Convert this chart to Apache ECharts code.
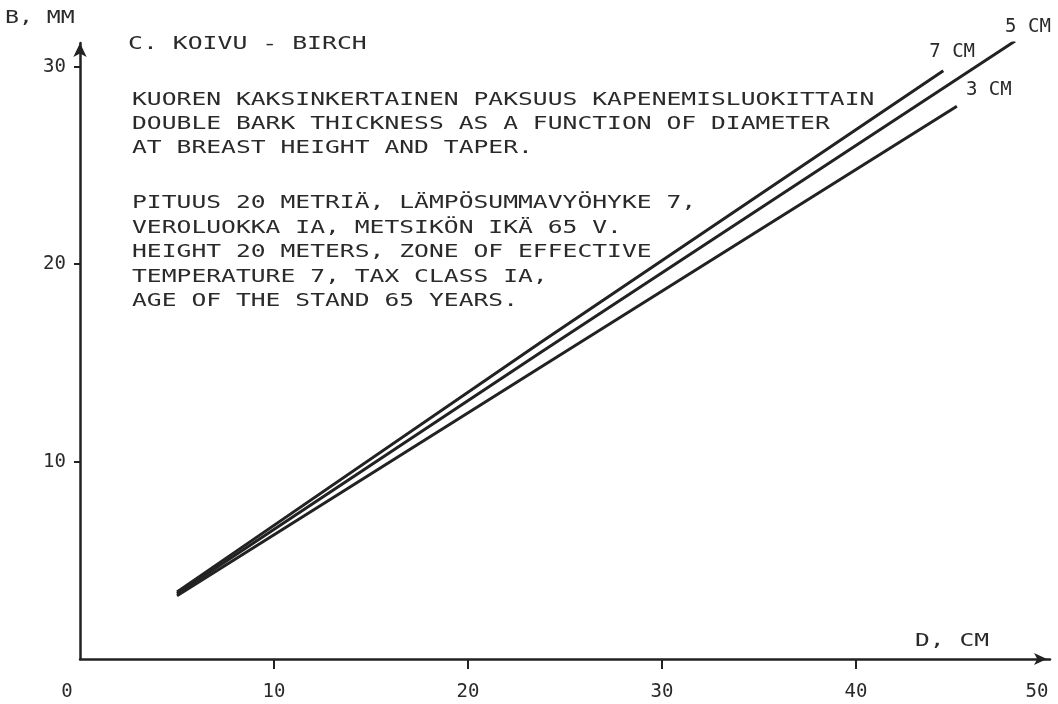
<!DOCTYPE html>
<html>
<head>
<meta charset="utf-8">
<script src="https://cdn.jsdelivr.net/npm/echarts@6/dist/echarts.min.js"></script>
<style>html,body{margin:0;padding:0;background:#fff;}#c{width:1058px;height:704px;}</style>
</head>
<body>
<div id="c"></div>
<script>
// Data
const xTickLabels = [0, 10, 20, 30, 40, 50];
const yTickLabels = [10, 20, 30];
const seriesNames = ['5 CM', '7 CM', '3 CM'];
const diam5 = [5, 23.7, 48.2];
const bark5 = [3.3, 15.5, 31.3];
const diam7 = [5, 23.7, 44.5];
const bark7 = [3.4, 16.0, 29.8];
const diam3 = [5, 23.7, 45.2];
const bark3 = [3.2, 14.75, 28.0];

const titleText = 'C. KOIVU - BIRCH';
const para1 = [
  'KUOREN KAKSINKERTAINEN PAKSUUS KAPENEMISLUOKITTAIN',
  'DOUBLE BARK THICKNESS AS A FUNCTION OF DIAMETER',
  'AT BREAST HEIGHT AND TAPER.'
];
const para2 = [
  'PITUUS 20 METRIÄ, LÄMPÖSUMMAVYÖHYKE 7,',
  'VEROLUOKKA IA, METSIKÖN IKÄ 65 V.',
  'HEIGHT 20 METERS, ZONE OF EFFECTIVE',
  'TEMPERATURE 7, TAX CLASS IA,',
  'AGE OF THE STAND 65 YEARS.'
];
const yAxisName = 'B, MM';
const xAxisName = 'D, CM';

const FONT = '"DejaVu Sans Mono", "Liberation Mono", monospace';
const INK = '#222';
const TXT = '#2a2a2a';
const FS = 18.5;

function pairs(xs, ys) { return xs.map((x, i) => [x, ys[i]]); }

const chart = echarts.init(document.getElementById('c'), null, {renderer: 'canvas'});

function lineSeries(name, xs, ys, off) {
  return {
    name: name,
    type: 'line',
    data: pairs(xs, ys),
    symbol: 'none',
    lineStyle: {color: INK, width: 3},
    z: 3,
    endLabel: {
      show: true,
      formatter: name,
      color: TXT,
      fontFamily: FONT,
      fontSize: 19,
      offset: off
    }
  };
}

function txt(x, y, s, sx, extra) {
  return {type: 'text', x: x, y: y, scaleX: sx, silent: true,
    style: Object.assign({text: s, font: FS + 'px ' + FONT, fill: TXT, verticalAlign: 'middle'}, extra || {})};
}

const option = {
  backgroundColor: '#fff',
  animation: false,
  grid: {left: 80, right: 8, top: 43, bottom: 45},
  xAxis: {
    type: 'value',
    min: 0,
    max: 50,
    splitLine: {show: false},
    axisLine: {
      show: true, onZero: false,
      symbol: ['none', 'arrow'], symbolSize: [9, 13], symbolOffset: [0, -3],
      lineStyle: {color: INK, width: 2.5}
    },
    axisTick: {show: true, length: 10, inside: false, customValues: [10, 20, 30, 40],
      lineStyle: {color: INK, width: 2}},
    axisLabel: {
      customValues: xTickLabels,
      margin: 24,
      color: TXT,
      fontFamily: FONT,
      fontSize: 19,
      formatter: function (v) {
        if (v === 0 || v === 50) return '{s|' + v + '}';
        return String(v);
      },
      rich: {s: {fontFamily: FONT, fontSize: 19, color: TXT, padding: [0, 26, 0, 0]}}
    }
  },
  yAxis: {
    type: 'value',
    min: 0,
    max: 31.2,
    splitLine: {show: false},
    axisLine: {
      show: true, onZero: false,
      symbol: ['none', 'arrow'], symbolSize: [10, 14],
      lineStyle: {color: INK, width: 2.5}
    },
    axisTick: {show: true, length: 6, inside: false, customValues: yTickLabels,
      lineStyle: {color: INK, width: 2}},
    axisLabel: {
      customValues: yTickLabels,
      margin: 14,
      color: TXT,
      fontFamily: FONT,
      fontSize: 19
    }
  },
  graphic: [
    txt(5, 18, yAxisName, 1.25),
    txt(915, 641, xAxisName, 1.33),
    txt(128, 44, titleText, 1.34),
    txt(132, 88, para1.join('\n'), 1.333, {verticalAlign: 'top', lineHeight: 24.2}),
    txt(132, 191, para2.join('\n'), 1.333, {verticalAlign: 'top', lineHeight: 24.5})
  ],
  series: [
    lineSeries(seriesNames[0], diam5, bark5, [-18, -14]),
    lineSeries(seriesNames[1], diam7, bark7, [-22, -19]),
    lineSeries(seriesNames[2], diam3, bark3, [1, -16])
  ]
};
chart.setOption(option);
</script>
</body>
</html>
